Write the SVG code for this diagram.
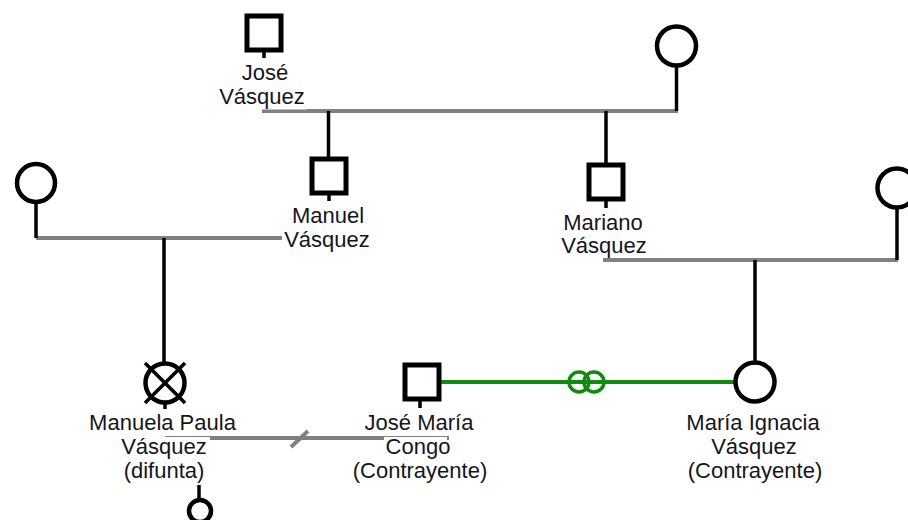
<svg xmlns="http://www.w3.org/2000/svg" width="908" height="520" viewBox="0 0 908 520">
  <style>
    .rel { stroke: #808080; stroke-width: 4; fill: none; }
    .stem { stroke: #000; stroke-width: 3.5; fill: none; }
    .male { fill: #fff; stroke: #000; stroke-width: 5; }
    .female { fill: #fff; stroke: #000; stroke-width: 4.5; }
    .wed { stroke: #108a10; stroke-width: 4; fill: none; }
    .ring { stroke: #108a10; stroke-width: 3.5; fill: none; }
    .lbl { font-family: "Liberation Sans", Arial, sans-serif; font-size: 22px; fill: #151520; text-anchor: middle; }
    .bg { fill: #fff; }
  </style>

  <rect width="908" height="520" fill="#fff"/>

  <!-- connectors: unions, descent lines and stems -->
  <g id="connectors">
    <line class="rel" x1="262" y1="111" x2="678" y2="111"/>
    <line class="rel" x1="36" y1="238" x2="328" y2="238"/>
    <line class="rel" x1="603" y1="260" x2="898" y2="260"/>
    <line class="rel" x1="165" y1="438" x2="449" y2="438"/>
    <line class="rel" x1="291" y1="447" x2="308" y2="431"/>

    <line class="stem" x1="676.5" y1="66" x2="676.5" y2="111"/>
    <line class="stem" x1="328.5" y1="111" x2="328.5" y2="158"/>
    <line class="stem" x1="606" y1="111" x2="606" y2="164"/>
    <line class="stem" x1="36" y1="202" x2="36" y2="238"/>
    <line class="stem" x1="164" y1="238" x2="164" y2="363"/>
    <line class="stem" x1="897" y1="207" x2="897" y2="260"/>
    <line class="stem" x1="755" y1="260" x2="755" y2="361"/>

    <line class="stem" x1="264" y1="50" x2="264" y2="58"/>
    <line class="stem" x1="329" y1="194" x2="329" y2="201"/>
    <line class="stem" x1="606" y1="200" x2="606" y2="208"/>
    <line class="stem" x1="165" y1="403" x2="165" y2="409"/>
    <line class="stem" x1="420" y1="400" x2="420" y2="408"/>
    <line class="stem" x1="199" y1="485" x2="199" y2="499"/>

    <line class="wed" x1="441" y1="382" x2="735" y2="382"/>
    <ellipse class="ring" cx="579" cy="382" rx="10" ry="10" fill="#fff"/>
    <ellipse class="ring" cx="594" cy="382" rx="10" ry="10"/>
  </g>

  <g id="jose-vasquez">
    <rect class="male" x="247" y="16" width="34" height="34"/>
    <text class="lbl" x="265" y="80">José</text>
    <rect class="bg" x="217" y="87" width="90" height="22.5"/>
    <text class="lbl" x="262" y="103.5">Vásquez</text>
  </g>

  <g id="wife-jose">
    <circle class="female" cx="676.5" cy="46" r="19.5"/>
  </g>

  <g id="manuel-vasquez">
    <rect class="male" x="312" y="159" width="34" height="34"/>
    <text class="lbl" x="328" y="223">Manuel</text>
    <rect class="bg" x="282" y="229" width="90" height="22"/>
    <text class="lbl" x="327" y="246.5">Vásquez</text>
  </g>

  <g id="wife-manuel">
    <circle class="female" cx="36" cy="183" r="19"/>
  </g>

  <g id="mariano-vasquez">
    <rect class="male" x="589" y="165" width="34" height="34"/>
    <text class="lbl" x="603" y="230">Mariano</text>
    <rect class="bg" x="559" y="236" width="90" height="22"/>
    <text class="lbl" x="604" y="253">Vásquez</text>
  </g>

  <g id="wife-mariano">
    <circle class="female" cx="897" cy="188" r="19.5"/>
  </g>

  <g id="manuela-paula-vasquez">
    <circle class="female" cx="165" cy="383" r="19.5"/>
    <line class="stem" x1="145" y1="363" x2="185" y2="403" stroke-width="3"/>
    <line class="stem" x1="185" y1="363" x2="145" y2="403" stroke-width="3"/>
    <text class="lbl" x="162.5" y="430">Manuela Paula</text>
    <rect class="bg" x="118" y="437" width="92" height="23"/>
    <text class="lbl" x="164" y="454">Vásquez</text>
    <text class="lbl" x="164" y="478">(difunta)</text>
  </g>

  <g id="child-manuela">
    <circle class="female" cx="200" cy="511" r="11"/>
  </g>

  <g id="jose-maria-congo">
    <rect class="male" x="405" y="365" width="34" height="34"/>
    <text class="lbl" x="419" y="430">José María</text>
    <rect class="bg" x="384" y="437" width="63" height="23"/>
    <text class="lbl" x="418" y="454">Congo</text>
    <text class="lbl" x="420" y="478">(Contrayente)</text>
  </g>

  <g id="maria-ignacia-vasquez">
    <circle class="female" cx="755" cy="382" r="19.5"/>
    <text class="lbl" x="753" y="430">María Ignacia</text>
    <text class="lbl" x="754" y="454">Vásquez</text>
    <text class="lbl" x="755" y="478">(Contrayente)</text>
  </g>
</svg>
